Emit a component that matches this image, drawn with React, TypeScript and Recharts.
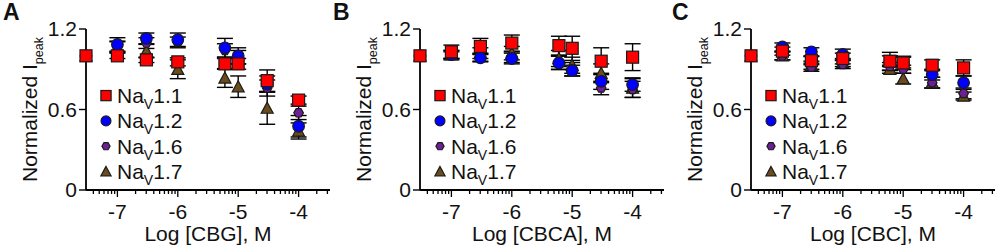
import React from 'react';
import { ScatterChart, Scatter, XAxis, YAxis, ErrorBar, Legend } from 'recharts';

// log10 of concentration (M); first point is the vehicle control
const LOG_CONC = [-7.52, -7, -6.52, -6, -5.22, -5, -4.52, -4];
const X_MAJOR = [-7, -6, -5, -4];
const Y_TICKS = [0, 0.6, 1.2];
const X_DOMAIN: [number, number] = [-7.52, -3.48];

const CHANNELS = ['1.1', '1.2', '1.6', '1.7'];
const COLORS = ['#ff0000', '#0000ff', '#6e1f96', '#6a4c1c'];

// CBG
const cbg11 = [1.0, 1.0, 0.97, 0.955, 0.94, 0.94, 0.815, 0.67];
const cbg11Err = [0, 0.02, 0.02, 0.03, 0.04, 0.04, 0.08, 0.03];
const cbg12 = [1.0, 1.085, 1.13, 1.12, 1.06, 1.0, 0.79, 0.475];
const cbg12Err = [0, 0.05, 0.04, 0.05, 0.07, 0.06, 0.06, 0.08];
const cbg16 = [1.0, 1.07, 1.095, 1.1, 1.04, 0.99, 0.76, 0.575];
const cbg16Err = [0, 0.04, 0.04, 0.04, 0.05, 0.05, 0.06, 0.05];
const cbg17 = [1.0, 1.065, 1.035, 0.9, 0.835, 0.77, 0.61, 0.44];
const cbg17Err = [0, 0.04, 0.05, 0.07, 0.07, 0.08, 0.12, 0.06];

// CBCA
const cbca11 = [1.0, 1.03, 1.07, 1.095, 1.076, 1.056, 0.96, 0.99];
const cbca11Err = [0, 0.05, 0.06, 0.06, 0.07, 0.09, 0.1, 0.1];
const cbca12 = [1.0, 1.01, 0.985, 0.98, 0.947, 0.89, 0.81, 0.786];
const cbca12Err = [0, 0.03, 0.03, 0.04, 0.05, 0.04, 0.06, 0.05];
const cbca16 = [1.0, 1.0, 0.99, 0.99, 0.95, 0.9, 0.76, 0.75];
const cbca16Err = [0, 0.03, 0.03, 0.04, 0.05, 0.05, 0.05, 0.06];
const cbca17 = [1.0, 1.01, 1.02, 1.02, 0.98, 0.93, 0.87, 0.76];
const cbca17Err = [0, 0.03, 0.04, 0.05, 0.06, 0.06, 0.07, 0.07];

// CBC
const cbc11 = [1.0, 1.035, 0.964, 0.98, 0.96, 0.947, 0.93, 0.91];
const cbc11Err = [0, 0.03, 0.03, 0.04, 0.066, 0.05, 0.04, 0.06];
const cbc12 = [1.0, 1.066, 1.03, 1.01, 0.96, 0.95, 0.86, 0.8];
const cbc12Err = [0, 0.03, 0.03, 0.04, 0.04, 0.04, 0.04, 0.05];
const cbc16 = [1.0, 1.0, 0.915, 0.935, 0.92, 0.9, 0.8, 0.72];
const cbc16Err = [0, 0.03, 0.03, 0.03, 0.03, 0.03, 0.04, 0.04];
const cbc17 = [1.0, 1.0, 0.93, 0.95, 0.9, 0.83, 0.8, 0.7];
const cbc17Err = [0, 0.03, 0.03, 0.03, 0.03, 0.04, 0.04, 0.03];

const FONT = 'Arial, "Liberation Sans", Helvetica, sans-serif';

const toRows = (ys: number[], errs: number[]) =>
  LOG_CONC.map((x, i) => ({ x, y: ys[i], e: errs[i] }));

// log axis: major decades plus minor ticks at 2..9 within the domain
const X_TICKS = (() => {
  const t: number[] = [];
  for (let n = -8; n <= -4; n++) {
    for (let k = 1; k <= 9; k++) {
      const v = n + Math.log10(k);
      if (v >= X_DOMAIN[0] && v <= X_DOMAIN[1]) t.push(k === 1 ? n : v);
    }
  }
  return t;
})();

const STROKE = '#1a1a1a';

const Marker = ({ idx, cx, cy, s = 1 }: { idx: number; cx: number; cy: number; s?: number }) => {
  const fill = COLORS[idx];
  if (idx === 0) {
    const h = 6 * s;
    return <rect x={cx - h} y={cy - h} width={2 * h} height={2 * h} fill={fill} stroke={STROKE} strokeWidth={1.2} />;
  }
  if (idx === 1) {
    return <circle cx={cx} cy={cy} r={5.8 * s} fill={fill} stroke={STROKE} strokeWidth={1.2} />;
  }
  if (idx === 2) {
    const r = 4.8 * s;
    const pts = [0, 1, 2, 3, 4, 5]
      .map(k => {
        const a = (Math.PI / 3) * k;
        return `${cx + r * Math.cos(a)},${cy + r * Math.sin(a)}`;
      })
      .join(' ');
    return <polygon points={pts} fill={fill} stroke={STROKE} strokeWidth={1.2} />;
  }
  const h = 6 * s;
  return (
    <polygon
      points={`${cx},${cy - h} ${cx - h},${cy + h * 0.85} ${cx + h},${cy + h * 0.85}`}
      fill={fill}
      stroke={STROKE}
      strokeWidth={1.2}
    />
  );
};

const XTick = (props: any) => {
  const { x, y, payload } = props;
  const v = payload.value;
  const major = X_MAJOR.some(m => Math.abs(m - v) < 1e-9);
  return (
    <g>
      <line x1={x} x2={x} y1={y} y2={y + (major ? 7 : 4)} stroke="#000" strokeWidth={1.3} />
      {major && (
        <text x={x} y={y + 29} textAnchor="middle" fontSize={21} fill="#111" fontFamily={FONT}>
          {v}
        </text>
      )}
    </g>
  );
};

const LegendBox = () => (
  <svg width={110} height={112} style={{ overflow: 'visible' }}>
    {CHANNELS.map((c, i) => {
      const cy = 12.6 + i * 25.3;
      return (
        <g key={c}>
          <Marker idx={i} cx={11} cy={cy} s={0.85} />
          <text x={22} y={cy + 7.5} fontSize={21} fill="#111" fontFamily={FONT}>
            Na
            <tspan fontSize={14} dy={6}>V</tspan>
            <tspan dy={-6}>{c}</tspan>
          </text>
        </g>
      );
    })}
  </svg>
);

interface PanelProps {
  letter: string;
  drug: string;
  left: number;
  letterX: number;
  series: { y: number[]; e: number[] }[];
}

const Panel = ({ letter, drug, left, letterX, series }: PanelProps) => {
  // draw order: Nav1.7 first, Nav1.1 last (on top)
  const order = [3, 2, 1, 0];
  return (
    <div style={{ position: 'absolute', left, top: 0 }}>
      <ScatterChart width={334} height={246} margin={{ top: 29, right: 4, bottom: 26, left: 26 }}>
        <XAxis
          type="number"
          dataKey="x"
          domain={X_DOMAIN}
          ticks={X_TICKS}
          interval={0}
          height={30}
          tickSize={0}
          tickMargin={0}
          tickLine={false}
          tick={<XTick />}
          axisLine={{ stroke: '#000', strokeWidth: 1.8 }}
          label={{
            content: (p: any) => {
              const vb = p.viewBox || {};
              return (
                <text
                  x={vb.x + vb.width / 2}
                  y={vb.y + 50.5}
                  textAnchor="middle"
                  fontSize={21}
                  fill="#111"
                  fontFamily={FONT}
                >
                  {`Log [${drug}], M`}
                </text>
              );
            },
          }}
        />
        <YAxis
          type="number"
          dataKey="y"
          domain={[0, 1.2]}
          ticks={Y_TICKS}
          interval={0}
          width={60}
          tickSize={7}
          tickMargin={2}
          tick={{ fontSize: 21, fill: '#111', fontFamily: FONT }}
          tickLine={{ stroke: '#000', strokeWidth: 1.4 }}
          axisLine={{ stroke: '#000', strokeWidth: 1.8 }}
          label={{
            content: (p: any) => {
              const vb = p.viewBox || {};
              const cy = vb.y + vb.height / 2;
              return (
                <g>
                  <text
                    x={37}
                    y={cy}
                    transform={`rotate(-90, 37, ${cy})`}
                    textAnchor="middle"
                    fontSize={21}
                    fill="#111"
                    fontFamily={FONT}
                  >
                    Normalized I
                    <tspan fontSize={12.5} dy={6}>peak</tspan>
                  </text>
                  <text x={letterX} y={20} fontSize={23} fontWeight="bold" fill="#111" fontFamily={FONT}>
                    {letter}
                  </text>
                </g>
              );
            },
          }}
        />
        <Legend
          layout="vertical"
          align="center"
          verticalAlign="middle"
          wrapperStyle={{ left: 95, top: 83.4, width: 110, height: 112 }}
          content={() => <LegendBox />}
        />
        {order.map(i => (
          <Scatter
            key={CHANNELS[i]}
            name={`Nav${CHANNELS[i]}`}
            data={toRows(series[i].y, series[i].e)}
            isAnimationActive={false}
            shape={(p: any) => <Marker idx={i} cx={p.cx} cy={p.cy} />}
          >
            <ErrorBar dataKey="e" direction="y" width={8} stroke="#000" strokeWidth={1.4} isAnimationActive={false} />
          </Scatter>
        ))}
      </ScatterChart>
    </div>
  );
};

export default function App() {
  return (
    <div
      style={{
        position: 'absolute',
        left: 0,
        top: 0,
        width: 996,
        height: 246,
        overflow: 'hidden',
        background: '#fff',
        fontFamily: FONT,
      }}
    >
      <Panel
        letter="A"
        drug="CBG"
        left={0}
        letterX={3}
        series={[
          { y: cbg11, e: cbg11Err },
          { y: cbg12, e: cbg12Err },
          { y: cbg16, e: cbg16Err },
          { y: cbg17, e: cbg17Err },
        ]}
      />
      <Panel
        letter="B"
        drug="CBCA"
        left={334}
        letterX={-1}
        series={[
          { y: cbca11, e: cbca11Err },
          { y: cbca12, e: cbca12Err },
          { y: cbca16, e: cbca16Err },
          { y: cbca17, e: cbca17Err },
        ]}
      />
      <Panel
        letter="C"
        drug="CBC"
        left={665}
        letterX={7}
        series={[
          { y: cbc11, e: cbc11Err },
          { y: cbc12, e: cbc12Err },
          { y: cbc16, e: cbc16Err },
          { y: cbc17, e: cbc17Err },
        ]}
      />
    </div>
  );
}
